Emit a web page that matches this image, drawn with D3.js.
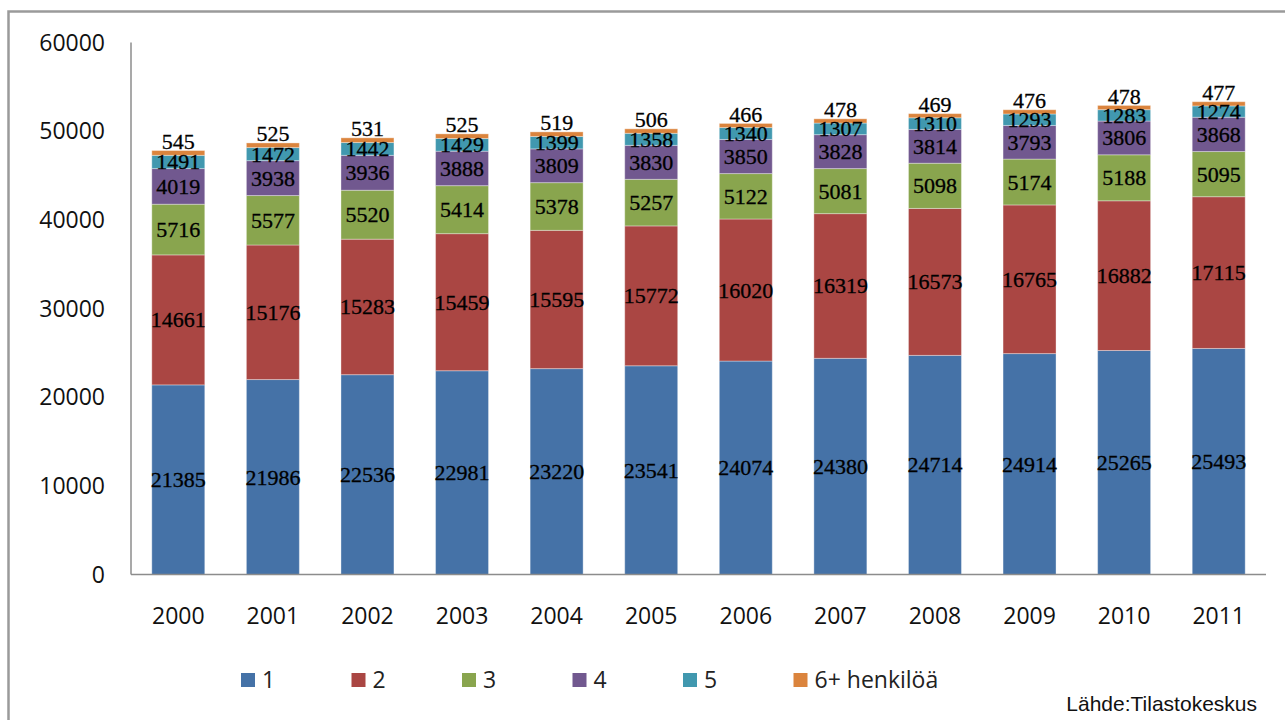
<!DOCTYPE html>
<html>
<head>
<meta charset="utf-8">
<style>
    body { margin: 0; background: white; }
    .tick-label { font-family: "Open Sans", "Liberation Sans", sans-serif; font-size: 23px; fill: #111; }
    .val { font-family: "Liberation Serif", serif; font-size: 22px; fill: #000; stroke: #000; stroke-width: 0.3px; }
    .legend text { font-family: "Open Sans", "Liberation Sans", sans-serif; font-size: 23px; fill: #222; }
    .source { font-family: "Liberation Sans Narrow", "Liberation Sans", sans-serif; font-size: 21px; fill: #111; }
</style>
</head>
<body>
<svg width="1285" height="720"></svg>
<script src="https://d3js.org/d3.v7.min.js"></script>
<script>
    var years = ["2000","2001","2002","2003","2004","2005","2006","2007","2008","2009","2010","2011"];
    var series = ["1","2","3","4","5","6+ henkilöä"];
    var s1 = [21385,21986,22536,22981,23220,23541,24074,24380,24714,24914,25265,25493];
    var s2 = [14661,15176,15283,15459,15595,15772,16020,16319,16573,16765,16882,17115];
    var s3 = [5716,5577,5520,5414,5378,5257,5122,5081,5098,5174,5188,5095];
    var s4 = [4019,3938,3936,3888,3809,3830,3850,3828,3814,3793,3806,3868];
    var s5 = [1491,1472,1442,1429,1399,1358,1340,1307,1310,1293,1283,1274];
    var s6 = [545,525,531,525,519,506,466,478,469,476,478,477];
    var yTicks = [0,10000,20000,30000,40000,50000,60000];
    var colors = ["#4572A7","#AA4643","#89A54E","#71588F","#4198AF","#DB843D"];

    var allSeries = [s1,s2,s3,s4,s5,s6];
    var rows = years.map(function(y, i) {
        var r = {year: y};
        series.forEach(function(s, k) { r[s] = allSeries[k][i]; });
        return r;
    });

    var svg = d3.select("svg");

    // outer frame
    svg.append("rect")
        .attr("x", 8.5).attr("y", 11.5)
        .attr("width", 1300).attr("height", 730)
        .attr("fill", "none")
        .attr("stroke", "#9a9a9a")
        .attr("stroke-width", 2.5);

    var x = d3.scaleBand()
        .domain(years)
        .range([131, 1266])
        .paddingInner(0.44)
        .paddingOuter(0.22);
    var y = d3.scaleLinear()
        .domain([0, 60000])
        .range([574.5, 42.5]);
    var color = d3.scaleOrdinal().domain(series).range(colors);

    var stacked = d3.stack().keys(series)(rows);

    var layers = svg.append("g").selectAll("g")
        .data(stacked)
        .enter().append("g")
          .attr("fill", function(d) { return color(d.key); });

    layers.selectAll("rect")
        .data(function(d) { return d; })
        .enter().append("rect")
          .attr("x", function(d) { return x(d.data.year); })
          .attr("y", function(d) { return y(d[1]); })
          .attr("width", x.bandwidth())
          .attr("height", function(d) { return y(d[0]) - y(d[1]); })
          .attr("stroke", "rgba(255,255,255,0.35)")
          .attr("stroke-width", 1);

    // value labels, last series sits on top of the bar
    stacked.forEach(function(layer, k) {
        svg.append("g").selectAll("text")
            .data(layer)
            .enter().append("text")
              .attr("class", "val")
              .attr("text-anchor", "middle")
              .attr("x", function(d) { return x(d.data.year) + x.bandwidth() / 2; })
              .attr("y", function(d) {
                  if (k == series.length - 1) return y(d[1]) - 1.5;
                  return (y(d[0]) + y(d[1])) / 2 + 7.5;
              })
              .text(function(d) { return d[1] - d[0]; });
    });

    // axes (drawn by hand, Excel style: no ticks)
    svg.append("line")
        .attr("x1", 131).attr("x2", 131)
        .attr("y1", y(60000)).attr("y2", y(0))
        .attr("stroke", "#8c8c8c").attr("stroke-width", 1.5);
    svg.append("line")
        .attr("x1", 131).attr("x2", x.range()[1])
        .attr("y1", y(0)).attr("y2", y(0))
        .attr("stroke", "#8c8c8c").attr("stroke-width", 1.5);

    svg.append("g").selectAll("text")
        .data(yTicks)
        .enter().append("text")
          .attr("class", "tick-label")
          .attr("text-anchor", "end")
          .attr("x", 105)
          .attr("y", function(d) { return y(d) + 8; })
          .text(function(d) { return d; });

    svg.append("g").selectAll("text")
        .data(years)
        .enter().append("text")
          .attr("class", "tick-label")
          .attr("text-anchor", "middle")
          .attr("x", function(d) { return x(d) + x.bandwidth() / 2; })
          .attr("y", 624)
          .text(function(d) { return d; });

    // legend
    var legend = svg.append("g").attr("class", "legend")
        .selectAll("g")
        .data(series)
        .enter().append("g")
          .attr("transform", function(d, i) { return "translate(" + (241 + i * 110.5) + ",673)"; });
    legend.append("rect")
        .attr("width", 14).attr("height", 14)
        .attr("fill", function(d) { return color(d); });
    legend.append("text")
        .attr("x", 21).attr("y", 15)
        .text(function(d) { return d; });

    svg.append("text")
        .attr("class", "source")
        .attr("x", 1257).attr("y", 711)
        .attr("text-anchor", "end")
        .text("Lähde:Tilastokeskus");
</script>
</body>
</html>
